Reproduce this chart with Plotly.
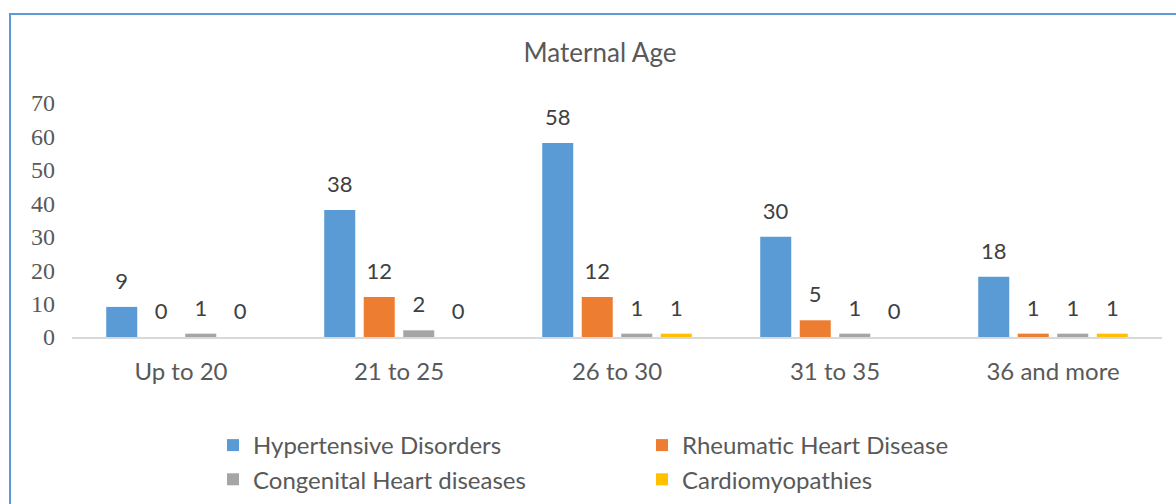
import plotly.graph_objects as go

categories = ["Up to 20", "21 to 25", "26 to 30", "31 to 35", "36 and more"]
hypertensive = [9, 38, 58, 30, 18]
rheumatic = [0, 12, 12, 5, 1]
congenital = [1, 2, 1, 1, 1]
cardiomyopathies = [0, 0, 1, 0, 1]

series = [
    ("Hypertensive Disorders", hypertensive, "#5B9BD5"),
    ("Rheumatic Heart Disease", rheumatic, "#ED7D31"),
    ("Congenital Heart diseases", congenital, "#A5A5A5"),
    ("Cardiomyopathies", cardiomyopathies, "#FFC000"),
]

W, H = 1176, 504
ML, MR, MT, MB = 72, 14, 103, 167
PW, PH = W - ML - MR, H - MT - MB
LABEL_PAD = 3.0  # axis units between bar top and data label

fig = go.Figure()
for i, (name, vals, color) in enumerate(series):
    fig.add_trace(go.Bar(
        x=categories, y=vals, name=name, marker_color=color,
        marker_line_width=0, offsetgroup=str(i), showlegend=True,
        hoverinfo="x+y+name",
    ))
    # transparent spacer bar carrying the data label above the real bar
    fig.add_trace(go.Bar(
        x=categories, y=[LABEL_PAD] * len(vals), base=vals,
        text=[str(v) for v in vals], textposition="outside",
        textfont=dict(family="Lato", size=22, color="#404040"),
        marker_color="rgba(0,0,0,0)", marker_line_width=0,
        offsetgroup=str(i), showlegend=False, hoverinfo="skip",
        cliponaxis=False, constraintext="none",
    ))

fig.update_layout(
    width=W, height=H,
    margin=dict(l=ML, r=MR, t=MT, b=MB),
    paper_bgcolor="white", plot_bgcolor="white",
    barmode="group", bargap=0.275, bargroupgap=0.215,
    title=dict(text="Maternal Age", x=600 / W, xref="container", xanchor="center",
               y=1 - 53 / H, yref="container", yanchor="middle",
               font=dict(family="Lato", size=26, color="#595959")),
    font=dict(family="Lato", color="#595959"),
    legend=dict(orientation="h", x=(213 - ML) / PW, xanchor="left",
                y=1 - 423 / H, yref="container", yanchor="top",
                font=dict(family="Lato", size=24, color="#595959"),
                entrywidth=384, entrywidthmode="pixels",
                traceorder="normal"),
    showlegend=True,
)
fig.update_xaxes(showline=True, linecolor="#D9D9D9", linewidth=1.5,
                 showgrid=False, ticks="", ticklabelstandoff=12,
                 tickfont=dict(family="Lato", size=24, color="#595959"),
                 fixedrange=True)
fig.update_yaxes(range=[0, 70], dtick=10, showgrid=False, zeroline=False,
                 showline=False, ticks="", ticklabelstandoff=16,
                 tickfont=dict(family="Liberation Serif", size=24, color="#595959"),
                 fixedrange=True)

fig.add_shape(type="rect", xref="paper", yref="paper",
              x0=(10 - ML) / PW, x1=(W + 10 - ML) / PW,
              y0=(337 - H - 10) / PH, y1=(337 - 14) / PH,
              line=dict(color="#5B9BD5", width=2), fillcolor="rgba(0,0,0,0)",
              layer="below")

fig.write_html("out.html", config={"displayModeBar": False},
               post_script="document.body.style.margin='0';")
